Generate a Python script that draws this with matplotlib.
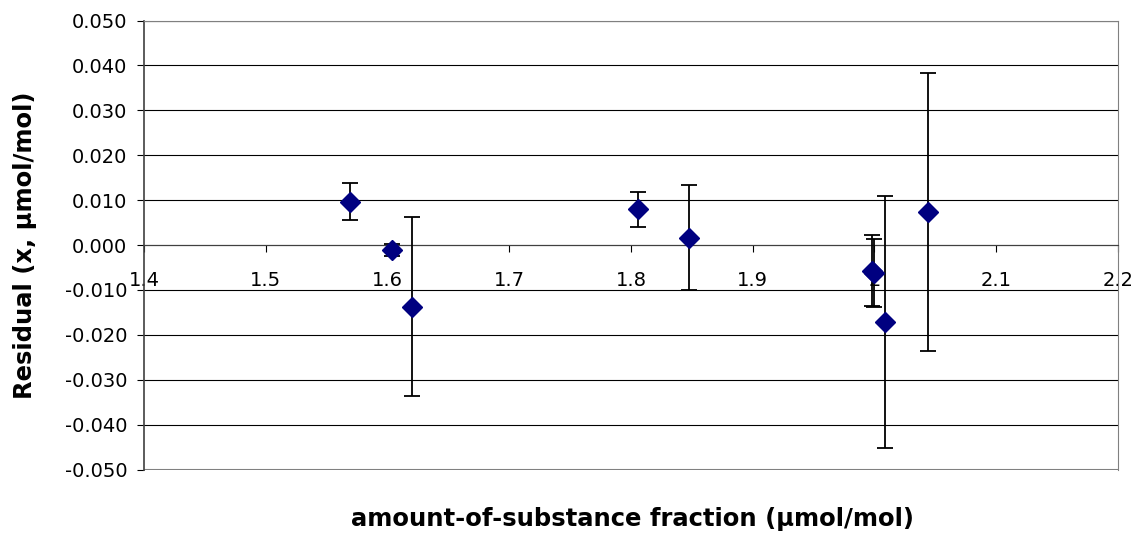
import matplotlib
matplotlib.use('Agg')
import matplotlib.pyplot as plt
import numpy as np

# residuals vs amount-of-substance fraction
x_frac = [1.569, 1.604, 1.620, 1.806, 1.848, 1.998, 2.000, 2.009, 2.044]
resid = [0.0097, -0.0011, -0.0137, 0.0080, 0.0016, -0.0057, -0.0062, -0.0172, 0.0074]
resid_err = [0.0042, 0.0013, 0.0200, 0.0039, 0.0117, 0.0079, 0.0075, 0.0281, 0.0310]

x_ticks = [1.4, 1.5, 1.6, 1.7, 1.8, 1.9, 2.0, 2.1, 2.2]
x_ticklabels = ["1.4", "1.5", "1.6", "1.7", "1.8", "1.9", "2", "2.1", "2.2"]
y_ticks = np.arange(-0.05, 0.0501, 0.01)

fig = plt.figure(figsize=(11.43, 5.41), dpi=100)
ax = fig.add_axes([0.126, 0.132, 0.852, 0.830])

ax.set_xlim(1.4, 2.2)
ax.set_ylim(-0.05, 0.05)

# gridlines
for yv in y_ticks:
    ax.axhline(yv, color='black', linewidth=0.8, zorder=1)

ax.errorbar(x_frac, resid, yerr=resid_err, fmt='none', ecolor='black',
            elinewidth=1.3, capsize=6, capthick=1.3, zorder=3)
ax.plot(x_frac, resid, linestyle='none', marker='D', markersize=10,
        color='#000080', markeredgecolor='#000080', zorder=4)

# x axis crosses at y = 0
ax.spines['bottom'].set_position(('data', 0))
ax.spines['bottom'].set_color('#404040')
ax.spines['left'].set_color('#404040')
ax.spines['left'].set_linewidth(1.2)
ax.spines['top'].set_color('#808080')
ax.spines['right'].set_color('#808080')
ax.axhline(-0.05, color='#808080', linewidth=1.5, zorder=2)

ax.set_xticks(x_ticks)
ax.set_xticklabels(x_ticklabels)
ax.set_yticks(y_ticks)
ax.set_yticklabels(["%.3f" % v if abs(v) > 1e-9 else "0.000" for v in y_ticks])
ax.tick_params(axis='x', direction='out', length=5, width=0.8, labelsize=14, pad=14)
ax.tick_params(axis='y', direction='out', length=5, width=0.8, labelsize=14, pad=7)

fig.text(0.553, 0.040, "amount-of-substance fraction (\u03bcmol/mol)",
         ha='center', va='center', fontsize=17.5, fontweight='bold')
fig.text(0.022, 0.547, "Residual (x, \u03bcmol/mol)", rotation=90,
         ha='center', va='center', fontsize=17.5, fontweight='bold')

plt.savefig("out.png", dpi=100)
plt.close()
